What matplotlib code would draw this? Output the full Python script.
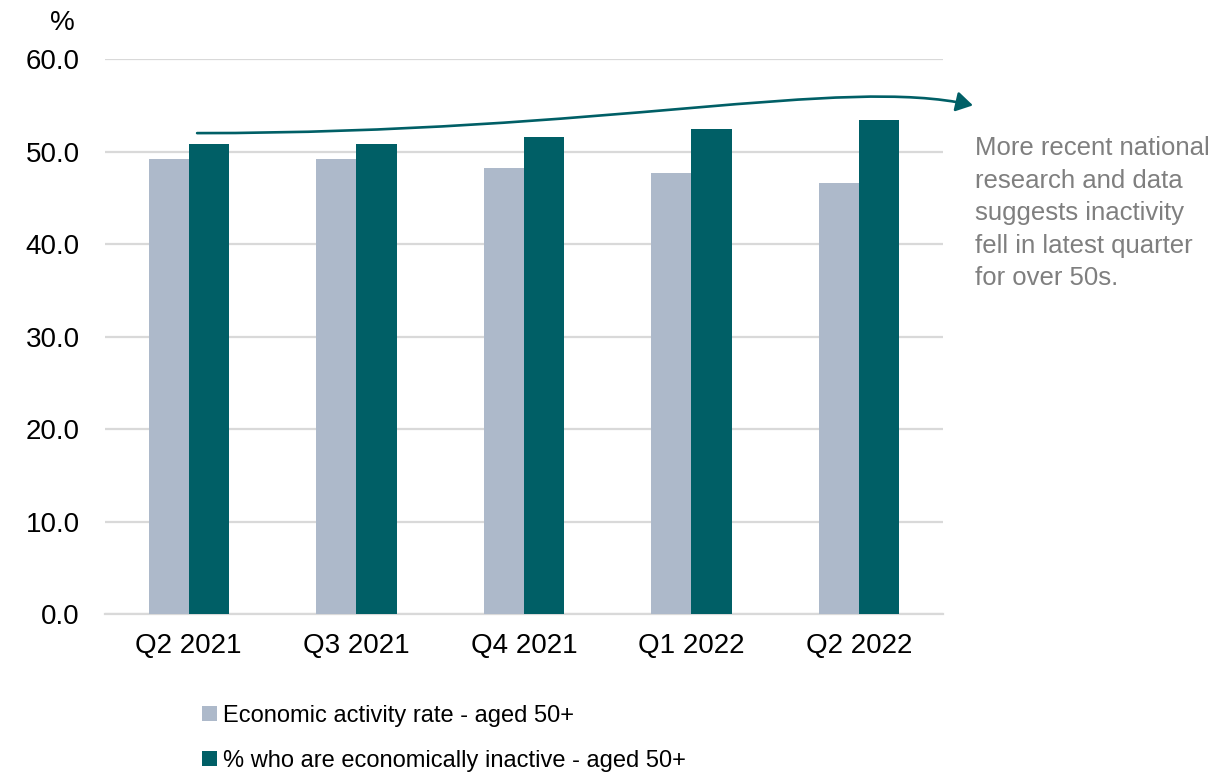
import numpy as np
import matplotlib.pyplot as plt
from matplotlib.patches import FancyArrowPatch
from matplotlib.path import Path

plt.rcParams['font.family'] = ['Liberation Sans', 'DejaVu Sans']

quarters = ['Q2 2021', 'Q3 2021', 'Q4 2021', 'Q1 2022', 'Q2 2022']
activity_rate = [49.2, 49.2, 48.2, 47.7, 46.6]
inactive_pct = [50.8, 50.8, 51.6, 52.4, 53.4]
labels = ['Economic activity rate - aged 50+',
          '% who are economically inactive - aged 50+']
note = ('More recent national\nresearch and data\nsuggests inactivity\n'
        'fell in latest quarter\nfor over 50s.')

grey = '#ADB9CA'
teal = '#005F66'

fig = plt.figure(figsize=(12.26, 7.78), dpi=100)
ax = fig.add_axes([0.0856, 0.2108, 0.6834, 0.7132])

x = np.arange(len(quarters))
w = 0.24
ax.bar(x - w / 2, activity_rate, w, color=grey, label=labels[0], zorder=3)
ax.bar(x + w / 2, inactive_pct, w, color=teal, label=labels[1], zorder=3)

ax.set_xlim(-0.5, len(quarters) - 0.5)
ax.set_ylim(0, 60)
ax.set_yticks(np.arange(0, 61, 10))
ax.set_yticklabels([f'{v:.1f}' for v in np.arange(0, 61, 10)])
ax.set_xticks(x)
ax.set_xticklabels(quarters)
ax.tick_params(axis='both', length=0, labelsize=20)
ax.tick_params(axis='y', pad=18)
ax.tick_params(axis='x', pad=14)
ax.grid(axis='y', color='#d9d9d9', linewidth=1.6, zorder=0)
for s in ['top', 'right', 'left']:
    ax.spines[s].set_visible(False)
ax.spines['bottom'].set_color('#d9d9d9')
ax.spines['bottom'].set_linewidth(1.6)

fig.text(0.051, 0.970, '%', fontsize=20, ha='center', va='center')

# trend arrow
verts = [(0.05, 52.0), (2.5, 52.0), (3.9, 58.2), (4.68, 55.0)]
codes = [Path.MOVETO, Path.CURVE4, Path.CURVE4, Path.CURVE4]
arrow = FancyArrowPatch(path=Path(verts, codes), arrowstyle='-|>,head_length=10,head_width=6',
                        color=teal, linewidth=1.9, clip_on=False, zorder=4)
ax.add_patch(arrow)

fig.text(0.795, 0.825, note, fontsize=18.5, color='#7f7f7f', ha='left', va='top',
         linespacing=1.45)

fig.legend(loc='upper left', bbox_to_anchor=(0.165, 0.094), frameon=False,
           fontsize=17, handlelength=0.62, handleheight=0.62, handletextpad=0.25,
           labelspacing=0.98, borderpad=0, borderaxespad=0)

fig.savefig('out.png', dpi=100)
